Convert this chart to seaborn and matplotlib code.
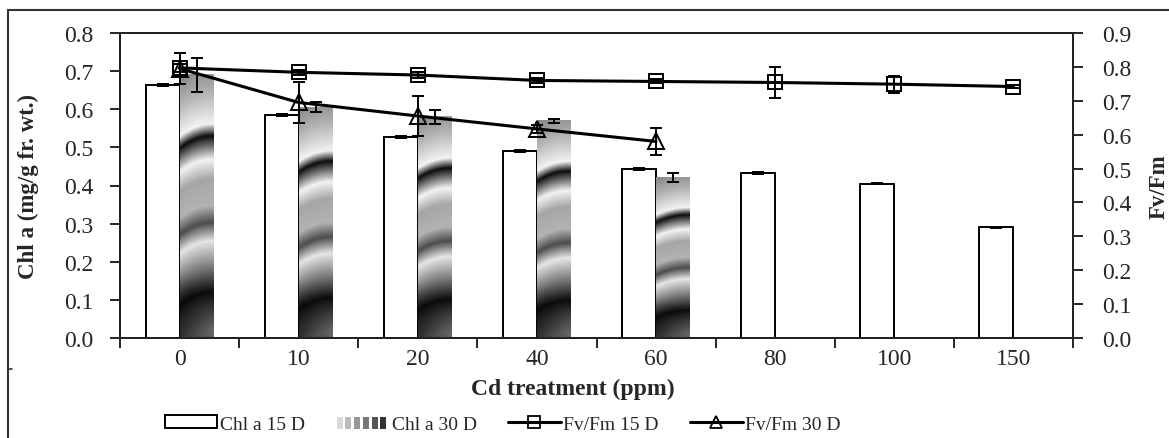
import numpy as np
import pandas as pd
import matplotlib.pyplot as plt
import seaborn as sns
from matplotlib.patches import Rectangle
from matplotlib.lines import Line2D
from matplotlib.legend_handler import HandlerBase

# data
cd = ['0', '10', '20', '40', '60', '80', '100', '150']
chl_15 = [0.664, 0.585, 0.527, 0.490, 0.443, 0.433, 0.405, 0.290]
chl_15_err = [0.003, 0.002, 0.002, 0.002, 0.002, 0.003, 0.002, 0.002]
chl_30 = [0.690, 0.605, 0.580, 0.570, 0.421]
chl_30_err = [0.045, 0.013, 0.018, 0.005, 0.012]
fv_15 = [0.797, 0.784, 0.776, 0.760, 0.757, 0.754, 0.749, 0.742]
fv_15_err = [0.012, 0.008, 0.008, 0.008, 0.006, 0.045, 0.025, 0.005]
fv_30 = [0.795, 0.695, 0.655, 0.617, 0.580]
fv_30_err = [0.045, 0.060, 0.058, 0.012, 0.041]

sns.set_style('ticks')
plt.rcParams['font.family'] = ['Liberation Serif', 'DejaVu Serif']
plt.rcParams['font.size'] = 17

df = pd.concat([
    pd.DataFrame({'cd': cd, 'chl': chl_15, 'serie': 'Chl a 15 D'}),
    pd.DataFrame({'cd': cd[:len(chl_30)], 'chl': chl_30, 'serie': 'Chl a 30 D'}),
])

# grey level of the ring fill, bottom (0) to top (1) of a bar
band_pos = [0.0, 0.07, 0.146, 0.234, 0.34, 0.41, 0.475, 0.576, 0.65, 0.74, 0.785, 0.905, 1.0]
band_grey = [0.4, 0.25, 0.05, 0.45, 0.9, 0.3, 0.7, 0.65, 0.95, 0.05, 0.95, 0.7, 0.55]


def ring_texture(nx=40, ny=300):
    u, v = np.meshgrid(np.linspace(0, 1, nx), np.linspace(0, 1, ny))
    v_eff = v - 0.035 * u + 0.05 * (u - 0.6) ** 2
    g = np.interp(v_eff, band_pos, band_grey)
    # darker lower-left corner
    g = g * (1 - 0.5 * np.clip(1 - np.hypot(u, v * 4), 0, 1))
    return g


class GradHandler(HandlerBase):
    def create_artists(self, legend, orig, xd, yd, w, h, fs, trans):
        arts = []
        greys = ['#d8d8d8', '#bbbbbb', '#999999', '#777777', '#555555', '#333333']
        n = len(greys)
        for i, c in enumerate(greys):
            arts.append(Rectangle((xd + i * w / n, yd), w / n * 0.7, h,
                                  facecolor=c, edgecolor='none', transform=trans))
        return arts


fig = plt.figure(figsize=(11.69, 4.39), dpi=100)
ax = fig.add_axes([120 / 1169, 1 - 339 / 439, (1073 - 120) / 1169, (339 - 34) / 439])

sns.barplot(data=df, x='cd', y='chl', hue='serie', order=cd, width=0.57,
            errorbar=None, palette=['white', 'white'], edgecolor='black',
            linewidth=1.4, legend=False, ax=ax)

tex = ring_texture()
bar_conts = list(ax.containers)
for i, cont in enumerate(bar_conts):
    errs = chl_15_err if i == 0 else chl_30_err
    bars = [b for b in cont if b is not None and np.isfinite(b.get_height())]
    xs = [b.get_x() + b.get_width() / 2 for b in bars]
    hs = [b.get_height() for b in bars]
    if i == 1:
        for b in bars:
            b.set_edgecolor('none')
            b.set_facecolor('none')
            x0, w, h = b.get_x(), b.get_width(), b.get_height()
            ax.imshow(tex, extent=(x0, x0 + w, 0, h), cmap='gray', vmin=0, vmax=1,
                      aspect='auto', origin='lower', interpolation='bilinear', zorder=1)
    ax.errorbar(xs, hs, yerr=errs[:len(bars)], fmt='none', ecolor='black',
                elinewidth=1.4, capsize=4, capthick=1.4, zorder=3)

ax.set_xlim(-0.5, len(cd) - 0.5)
ax.set_ylim(0, 0.8)
ax.set_yticks(np.arange(0, 0.81, 0.1))
ax.set_yticklabels([f'{t:.1f}' for t in np.arange(0, 0.81, 0.1)])
ax.set_xticks(np.arange(-0.5, len(cd), 1.0))
ax.set_xticklabels([])
ax.set_xticks(range(len(cd)), minor=True)
ax.set_xticklabels(cd, minor=True)
ax.tick_params(axis='x', which='minor', length=0, pad=7)
ax.tick_params(axis='x', which='major', length=7, width=1.4, direction='out')
ax.tick_params(axis='y', length=7, width=1.4, direction='out', pad=12)
ax.set_xlabel('Cd treatment (ppm)', fontweight='bold', fontsize=17)
ax.xaxis.set_label_coords(0.475, -0.13)
ax.set_ylabel('Chl a (mg/g fr. wt.)', fontweight='bold', fontsize=16.5)
ax.yaxis.set_label_coords(-0.085, 0.5)
for s in ax.spines.values():
    s.set_linewidth(1.4)
    s.set_color('#222222')

ax2 = ax.twinx()
x_idx = np.arange(len(cd))
ax2.errorbar(x_idx, fv_15, yerr=fv_15_err, color='black', lw=2.2, marker='s',
             ms=10, mfc='none', mec='black', mew=1.4, elinewidth=1.4, capsize=4,
             capthick=1.4)
ax2.errorbar(x_idx[:len(fv_30)], fv_30, yerr=fv_30_err, color='black', lw=2.2,
             marker='^', ms=11, mfc='none', mec='black', mew=1.4, elinewidth=1.4,
             capsize=4, capthick=1.4)
ax2.set_ylim(0, 0.9)
ax2.set_yticks(np.arange(0, 0.91, 0.1))
ax2.set_yticklabels([f'{t:.1f}' for t in np.arange(0, 0.91, 0.1)])
ax2.tick_params(axis='y', length=7, width=1.4, direction='out', pad=14)
ax2.set_ylabel('Fv/Fm', fontweight='bold', fontsize=16.5, labelpad=12)
for s in ax2.spines.values():
    s.set_linewidth(1.4)
    s.set_color('#222222')

handles = [
    Rectangle((0, 0), 1, 1, facecolor='white', edgecolor='black', lw=1.4),
    Rectangle((0, 0), 1, 1, facecolor='grey'),
    Line2D([], [], color='black', lw=2.2, marker='s', ms=8, mfc='none', mew=1.3),
    Line2D([], [], color='black', lw=2.2, marker='^', ms=8, mfc='none', mew=1.3),
]
labels = ['Chl a 15 D', 'Chl a 30 D', 'Fv/Fm 15 D', 'Fv/Fm 30 D']
fig.legend(handles, labels, loc='center', ncol=4, frameon=False, fontsize=14,
           bbox_to_anchor=(503 / 1169, 1 - 425 / 439), handlelength=2.7,
           handletextpad=0.15, columnspacing=1.6, handleheight=0.6,
           handler_map={handles[1]: GradHandler()})

# outer frame of the figure
fig.add_artist(Rectangle((8 / 1169, -0.1), 1.2, 1.1 - 11 / 439, transform=fig.transFigure,
                         fill=False, edgecolor='#333333', lw=1.5))
fig.add_artist(Line2D([8 / 1169, 12 / 1169], [1 - 370 / 439] * 2, transform=fig.transFigure,
                      color='#333333', lw=1.2))

fig.savefig('out.png', dpi=100)
